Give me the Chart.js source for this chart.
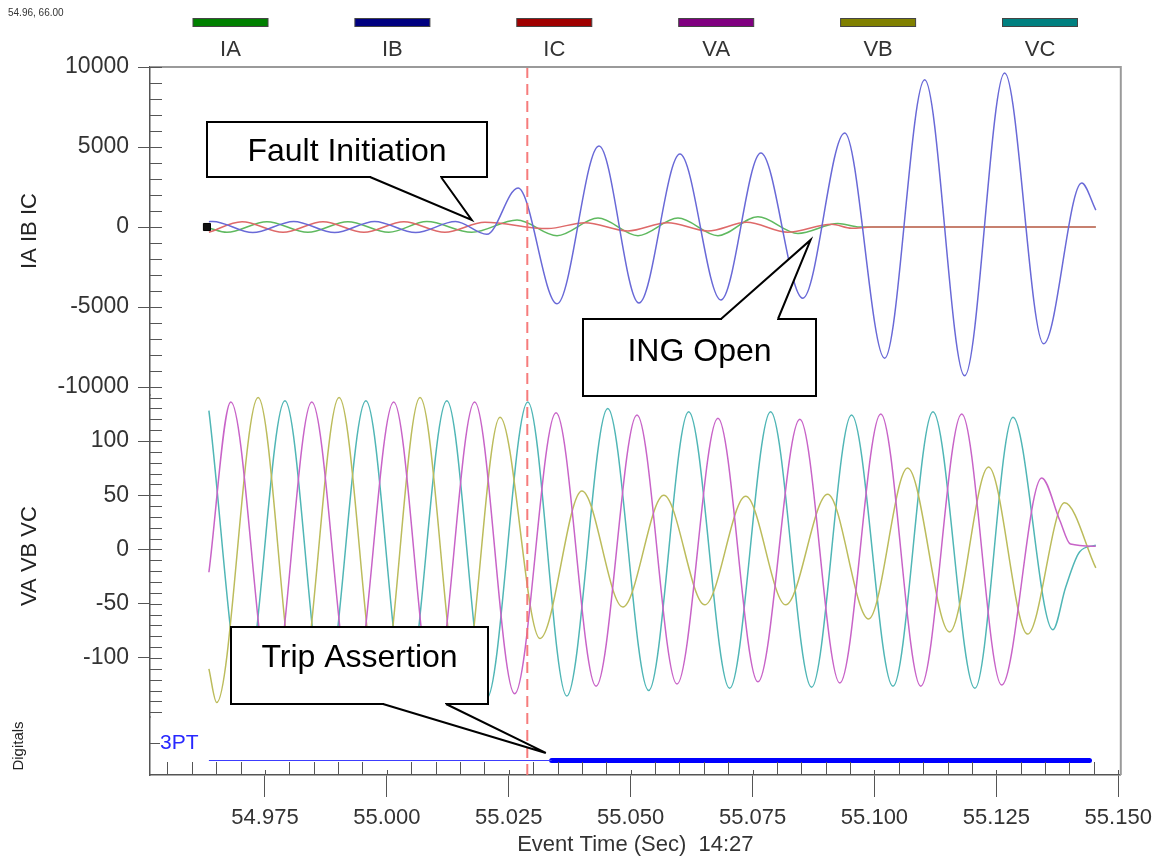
<!DOCTYPE html>
<html>
<head>
<meta charset="utf-8">
<title>Event Report 14:27</title>
<script src="https://cdn.jsdelivr.net/npm/chart.js@4.4.1/dist/chart.umd.min.js"></script>
<style>
  html, body { margin: 0; padding: 0; background: #fff; }
  #wrap { width: 1160px; height: 858px; }
</style>
</head>
<body>
<div id="wrap"><canvas id="eventChart" width="1160" height="858"></canvas></div>
<script>
// Turning points (peaks / troughs) of each analog channel: time in s, value in A or V
const iaT = [54.9635, 54.9672, 54.9754, 54.9838, 54.9920, 55.0004, 55.0082, 55.0174, 55.0267, 55.0349, 55.0433, 55.0515, 55.0597, 55.0679, 55.0761, 55.0843, 55.0925, 55.0970, 55.1454];
const iaV = [-60, -330, 330, -330, 330, -330, 340, -330, 440, -540, 560, -540, 560, -540, 640, -400, 220, 0, 0];

const ibT = [54.9635, 54.9643, 54.9725, 54.9809, 54.9893, 54.9975, 55.0059, 55.0141, 55.0205, 55.0269, 55.0349, 55.0435, 55.0517, 55.0601, 55.0685, 55.0767, 55.0853, 55.0939, 55.1021, 55.1103, 55.1185, 55.1267, 55.1347, 55.1425, 55.1454];
const ibV = [330, 350, -350, 350, -350, 350, -350, 340, -460, 2440, -4800, 5060, -4750, 4560, -4560, 4620, -4450, 5880, -8200, 9200, -9300, 9620, -7300, 2750, 1060];

const icT = [54.9635, 54.9703, 54.9787, 54.9869, 54.9953, 55.0035, 55.0119, 55.0201, 55.0330, 55.0406, 55.0494, 55.0576, 55.0658, 55.0738, 55.0822, 55.0912, 55.0953, 55.0994, 55.1454];
const icV = [-330, 330, -330, 330, -330, 330, -330, 300, -100, 270, -250, 270, -250, 290, -330, 170, -80, 0, 0];

const vaT = [54.9635, 54.9680, 54.9764, 54.9846, 54.9930, 55.0014, 55.0096, 55.0180, 55.0262, 55.0347, 55.0429, 55.0513, 55.0595, 55.0679, 55.0761, 55.0847, 55.0929, 55.1013, 55.1095, 55.1179, 55.1261, 55.1343, 55.1380, 55.1402, 55.1454];
const vaV = [-21, 136, -136, 136, -136, 136, -136, 136, -133, 126, -126, 124, -124, 121, -122, 120, -123, 125, -126, 125, -125, 66, 27, 5, 3];

const vbT = [54.9635, 54.9651, 54.9736, 54.9818, 54.9902, 54.9986, 55.0068, 55.0152, 55.0232, 55.0314, 55.0400, 55.0484, 55.0568, 55.0652, 55.0736, 55.0818, 55.0904, 55.0988, 55.1068, 55.1154, 55.1234, 55.1314, 55.1390, 55.1454];
const vbV = [-110, -141, 140, -140, 140, -140, 140, -140, 122, -82, 54, -53, 50, -51, 49, -51, 51, -64, 75, -76, 76, -78, 43, -17];

const vcT = [54.9635, 54.9707, 54.9791, 54.9873, 54.9957, 55.0039, 55.0123, 55.0205, 55.0289, 55.0369, 55.0453, 55.0537, 55.0619, 55.0703, 55.0787, 55.0871, 55.0953, 55.1038, 55.1120, 55.1206, 55.1284, 55.1366, 55.1392, 55.1421, 55.1454];
const vcV = [128, -137, 137, -137, 137, -137, 137, -137, 136, -135, 130, -130, 127, -128, 127, -127, 124, -126, 127, -128, 122, -74, -35, -2, 4];

// digital 3PT: edges and state held between them
const digitalNames = ['3PT'];
const tripT = [54.9635, 55.0338, 55.1441];
const tripState = [0, 1];

const channelNames = ['IA', 'IB', 'IC', 'VA', 'VB', 'VC'];
const timeTicks = [54.975, 55.000, 55.025, 55.050, 55.075, 55.100, 55.125, 55.150];
const currentTicks = [10000, 5000, 0, -5000, -10000];
const voltageTicks = [100, 50, 0, -50, -100];
const faultLineT = 55.0288;
const markerT = [54.9631];
const markerV = [0];

// styling
const FONT = "'Liberation Sans', Arial, sans-serif";
const legendColors = ['#008000', '#000080', '#a00000', '#800080', '#808000', '#008080'];
const traceColors = ['rgb(95,185,95)', 'rgb(105,105,215)', 'rgb(222,105,105)', 'rgb(200,100,200)', 'rgb(188,188,92)', 'rgb(80,182,182)'];
const digitalLevel = 1;
const digitalLabelAt = 2.2;

const callouts = [
  { text: 'Fault Initiation', box: [207, 122, 280, 55], base: [370, 441], tipT: 55.0174, tipV: 440, axis: 'yI', textY: 152 },
  { text: 'ING Open', box: [583, 319, 233, 77], base: [721, 778], tipT: 55.0869, tipV: -810, axis: 'yI', textY: 352 },
  { text: 'Trip Assertion', box: [231, 627, 257, 77], base: [383, 446], tipT: 55.0326, tipV: 1.52, axis: 'yD', textY: 658 }
];

Chart.defaults.font.family = FONT;
Chart.defaults.color = '#333';

const pts = (ts, vs) => ts.map((t, i) => ({ x: t, y: vs[i] }));

function trace(i, ts, vs, axis, order) {
  return {
    label: channelNames[i],
    data: pts(ts, vs),
    yAxisID: axis,
    borderColor: traceColors[i],
    borderWidth: 1.5,
    pointRadius: 0,
    cubicInterpolationMode: 'monotone',
    order: order
  };
}

const tripSets = tripState.map((s, i) => ({
  label: digitalNames[0],
  data: [{ x: tripT[i], y: digitalLevel }, { x: tripT[i + 1], y: digitalLevel }],
  yAxisID: 'yD',
  borderColor: s ? 'rgb(0,0,255)' : 'rgb(60,60,255)',
  borderWidth: s ? 5 : 1.2,
  borderCapStyle: s ? 'round' : 'butt',
  pointRadius: 0,
  order: 0
}));

function drawCallout(ctx, chart, c) {
  const [bx, by, bw, bh] = c.box;
  const tx = chart.scales.x.getPixelForValue(c.tipT);
  const ty = chart.scales[c.axis].getPixelForValue(c.tipV);
  const edgeY = ty > by + bh ? by + bh : by;
  const [b1, b2] = c.base;

  ctx.fillStyle = '#fff';
  ctx.strokeStyle = '#000';
  ctx.lineWidth = 2;
  ctx.setLineDash([]);
  ctx.fillRect(bx, by, bw, bh);
  ctx.strokeRect(bx, by, bw, bh);

  // open the edge where the pointer leaves the box
  ctx.beginPath();
  ctx.moveTo(b1, edgeY);
  ctx.lineTo(tx, ty);
  ctx.lineTo(b2, edgeY);
  ctx.closePath();
  ctx.fill();
  ctx.fillRect(b1 + 1, edgeY - 1.5, b2 - b1 - 2, 3);

  ctx.beginPath();
  ctx.moveTo(b1, edgeY);
  ctx.lineTo(tx, ty);
  ctx.lineTo(b2, edgeY);
  ctx.stroke();

  ctx.fillStyle = '#000';
  ctx.font = '32px ' + FONT;
  ctx.textAlign = 'center';
  ctx.textBaseline = 'middle';
  ctx.fillText(c.text, bx + bw / 2, c.textY);
}

const decor = {
  id: 'decor',
  afterDatasetsDraw(chart) {
    const { ctx, chartArea: a, scales: { x } } = chart;
    const fx = x.getPixelForValue(faultLineT);
    ctx.save();
    ctx.strokeStyle = 'rgba(245,110,110,0.9)';
    ctx.lineWidth = 2;
    ctx.setLineDash([11, 6]);
    ctx.beginPath();
    ctx.moveTo(fx, a.top);
    ctx.lineTo(fx, a.bottom);
    ctx.stroke();
    ctx.restore();
  },
  afterDraw(chart) {
    const { ctx, chartArea: a, scales } = chart;
    const x = scales.x;
    ctx.save();

    // top and right edges of the plot frame
    ctx.strokeStyle = '#9a9a9a';
    ctx.lineWidth = 2;
    ctx.beginPath();
    ctx.moveTo(a.left, a.top);
    ctx.lineTo(a.right, a.top);
    ctx.lineTo(a.right, a.bottom);
    ctx.stroke();

    // minor ticks pointing into the plot
    ctx.strokeStyle = '#555';
    ctx.lineWidth = 1;
    ctx.beginPath();
    for (let v = -10000; v <= 10000; v += 1000) {
      const y = Math.round(scales.yI.getPixelForValue(v)) + 0.5;
      ctx.moveTo(a.left, y); ctx.lineTo(a.left + 12, y);
    }
    for (let v = -150; v <= 140; v += 10) {
      const y = Math.round(scales.yV.getPixelForValue(v)) + 0.5;
      ctx.moveTo(a.left, y); ctx.lineTo(a.left + 12, y);
    }
    const yd = Math.round(scales.yD.getPixelForValue(digitalLabelAt)) + 0.5;
    ctx.moveTo(a.left, yd); ctx.lineTo(a.left + 10, yd);
    for (let k = Math.ceil(x.min / 0.005 - 1e-6); k * 0.005 <= x.max + 1e-9; k++) {
      const px = Math.round(x.getPixelForValue(k * 0.005)) + 0.5;
      const len = k % 5 === 0 ? 5 : 13;
      ctx.moveTo(px, a.bottom); ctx.lineTo(px, a.bottom - len);
    }
    ctx.stroke();

    // channel key across the top
    ctx.font = '22px ' + FONT;
    ctx.textAlign = 'center';
    ctx.textBaseline = 'middle';
    channelNames.forEach((name, i) => {
      const cx = 230.5 + i * 161.9;
      ctx.fillStyle = legendColors[i];
      ctx.fillRect(cx - 37.5, 18.5, 75, 8);
      ctx.strokeStyle = '#444';
      ctx.strokeRect(cx - 37.5, 18.5, 75, 8);
      ctx.fillStyle = '#333';
      ctx.fillText(name, cx, 50);
    });

    ctx.font = '10px ' + FONT;
    ctx.textAlign = 'left';
    ctx.fillStyle = '#333';
    ctx.fillText('54.96, 66.00', 8, 13);

    callouts.forEach(c => drawCallout(ctx, chart, c));
    ctx.restore();
  }
};

function leftAxis(extra) {
  return Object.assign({
    type: 'linear',
    position: 'left',
    stack: 'panels',
    border: { color: '#555', width: 1.5 },
    grid: { drawOnChartArea: false, tickLength: 12, color: '#555' },
    afterFit: s => { s.width = 150; }
  }, extra);
}

new Chart(document.getElementById('eventChart'), {
  type: 'line',
  data: {
    datasets: [
      trace(1, ibT, ibV, 'yI', 1),
      trace(2, icT, icV, 'yI', 2),
      trace(0, iaT, iaV, 'yI', 3),
      trace(3, vaT, vaV, 'yV', 4),
      trace(4, vbT, vbV, 'yV', 5),
      trace(5, vcT, vcV, 'yV', 6),
      ...tripSets,
      {
        label: 'cursor',
        data: pts(markerT, markerV),
        yAxisID: 'yI',
        showLine: false,
        pointStyle: 'rect',
        pointRadius: 5,
        pointBackgroundColor: '#111',
        pointBorderColor: '#000',
        order: 0
      }
    ]
  },
  options: {
    responsive: false,
    animation: false,
    devicePixelRatio: 1,
    events: [],
    layout: { padding: { left: 0, top: 67, right: 39, bottom: 0 } },
    plugins: { legend: { display: false }, tooltip: { enabled: false } },
    scales: {
      x: {
        type: 'linear',
        position: 'bottom',
        min: 54.95142,
        max: 55.15052,
        border: { color: '#555', width: 1.5 },
        grid: { drawOnChartArea: false, tickLength: 22, color: '#555' },
        afterBuildTicks: s => { s.ticks = timeTicks.map(v => ({ value: v })); },
        ticks: {
          autoSkip: false, maxRotation: 0, minRotation: 0, padding: 8,
          font: { size: 22 }, color: '#333',
          callback: v => v.toFixed(3)
        },
        title: { display: true, text: 'Event Time (Sec)  14:27', font: { size: 22 }, color: '#333', padding: { top: 0, bottom: 0 } },
        afterFit: s => { s.height = 83; }
      },
      yI: leftAxis({
        weight: 3,
        stackWeight: 328,
        min: -10500,
        max: 10000,
        afterBuildTicks: s => { s.ticks = currentTicks.map(v => ({ value: v })); },
        ticks: { autoSkip: false, padding: 9, font: { size: 23 }, color: '#333', callback: v => String(v) },
        title: { display: true, text: 'IA IB IC', font: { size: 22 }, color: '#222', padding: { top: 17, bottom: 0 } }
      }),
      yV: leftAxis({
        weight: 2,
        stackWeight: 322,
        min: -154.4,
        max: 142.4,
        afterBuildTicks: s => { s.ticks = voltageTicks.map(v => ({ value: v })); },
        ticks: { autoSkip: false, padding: 9, font: { size: 23 }, color: '#333', callback: v => String(v) },
        title: { display: true, text: 'VA VB VC', font: { size: 22 }, color: '#222', padding: { top: 17, bottom: 0 } }
      }),
      yD: leftAxis({
        weight: 1,
        stackWeight: 58,
        min: 0,
        max: 4,
        grid: { drawOnChartArea: false, drawTicks: false, color: '#555' },
        afterBuildTicks: s => { s.ticks = [{ value: digitalLabelAt }]; },
        ticks: { autoSkip: false, mirror: true, padding: 10, font: { size: 21 }, color: 'rgb(40,40,255)', callback: () => digitalNames[0] },
        title: { display: true, text: 'Digitals', font: { size: 15 }, color: '#222', padding: { top: 10, bottom: 0 } }
      })
    }
  },
  plugins: [decor]
});
</script>
</body>
</html>
